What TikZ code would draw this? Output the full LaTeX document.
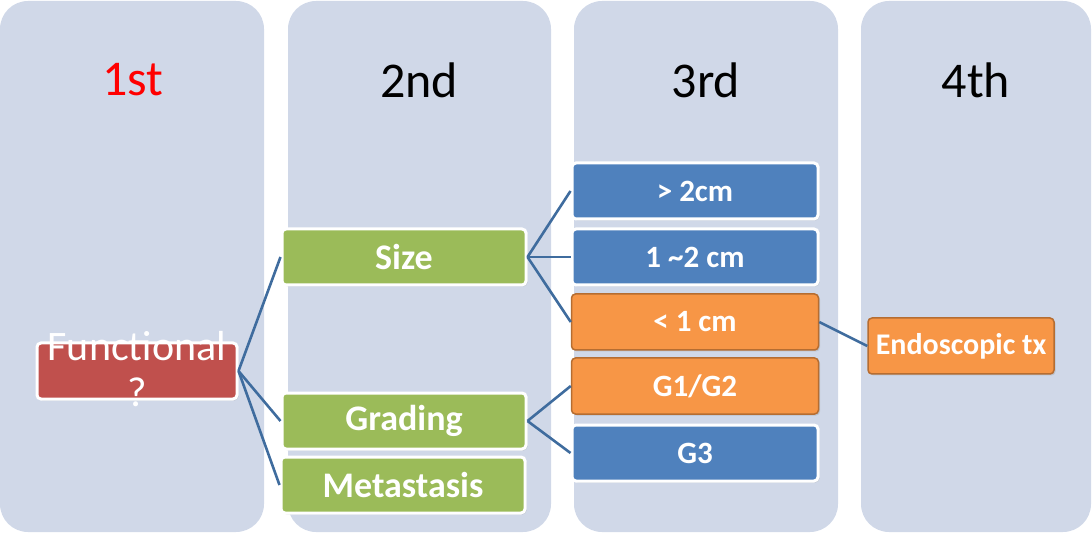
\documentclass[tikz,border=0pt]{standalone}
\usepackage{fontspec}
\setmainfont{Carlito}
\usepackage{xcolor}
\definecolor{cLane}{HTML}{D0D8E8}
\definecolor{cRed}{HTML}{C0504D}
\definecolor{cGreen}{HTML}{9BBB59}
\definecolor{cBlue}{HTML}{4F81BD}
\definecolor{cOrange}{HTML}{F79646}
\definecolor{cOrangeDark}{HTML}{B66D31}
\definecolor{cLink}{HTML}{3F6C9E}
\usetikzlibrary{positioning,shadows}
\tikzset{
  lane/.style={fill=cLane,draw=none,rounded corners=28pt},
  lane-head/.style={font=\fontsize{50}{54}\selectfont,text=black},
  node-box/.style={rounded corners=4pt,line width=3pt,draw=white,
    minimum height=56pt,align=center,text=white,
    font=\fontsize{31}{35}\selectfont\bfseries,
    drop shadow={shadow xshift=1.5pt,shadow yshift=-1.5pt,opacity=0.25}},
  node-red/.style={node-box,fill=cRed,minimum width=200pt},
  node-green/.style={node-box,fill=cGreen,minimum width=244pt,
    font=\fontsize{36}{40}\selectfont\bfseries},
  node-blue/.style={node-box,fill=cBlue,minimum width=246pt},
  node-orange/.style={node-box,fill=cOrange,draw=cOrangeDark,line width=1.5pt,minimum width=247pt},
  link/.style={draw=cLink,line width=2.6pt},
}
\begin{document}
\begin{tikzpicture}[x=1pt,y=-1pt]
  \useasboundingbox (0,0) rectangle (1092,534);
  % columns
  \fill[lane] (0,1) rectangle (264,532);
  \fill[lane] (288,1) rectangle (551,532);
  \fill[lane] (574,1) rectangle (838,532);
  \fill[lane] (861,1) rectangle (1091,532);
  \node[lane-head,text=red] (h1) at (133,80) {1st};
  \node[lane-head] (h2) at (419,80) {2nd};
  \node[lane-head] (h3) at (706,80) {3rd};
  \node[lane-head] (h4) at (976,80) {4th};
  % boxes
  \node[node-red] (func) at (137,371) {};
  \node[text=white,align=center,font=\fontsize{42}{46}\selectfont,
    inner sep=0pt] (functxt) at (137,369) {Functional\\?};
  \node[node-green] (size) at (404,257) {Size};
  \node[node-green] (grading) at (404,421) {Grading};
  \node[node-green] (meta) at (403,485) {Metastasis};
  \node[node-blue] (gt2) at (695,191) {{>} 2cm};
  \node[node-blue] (mid) at (695,257) {1 \char`~2 cm};
  \node[node-orange] (lt1) at (695,322) {{<} 1 cm};
  \node[node-orange] (g12) at (695,386) {G1/G2};
  \node[node-blue] (g3) at (695,453) {G3};
  \node[node-orange,minimum width=186pt,font=\fontsize{30}{34}\selectfont\bfseries]
    (endo) at (961,346) {Endoscopic tx};
  % connectors
  \draw[link] (func.east) -- (size.west);
  \draw[link] (func.east) -- (grading.west);
  \draw[link] (func.east) -- (meta.west);
  \draw[link] (size.east) -- (gt2.west);
  \draw[link] (size.east) -- (mid.west);
  \draw[link] (size.east) -- (lt1.west);
  \draw[link] (grading.east) -- (g12.west);
  \draw[link] (grading.east) -- (g3.west);
  \draw[link] (lt1.east) -- (endo.west);
\end{tikzpicture}
\end{document}
